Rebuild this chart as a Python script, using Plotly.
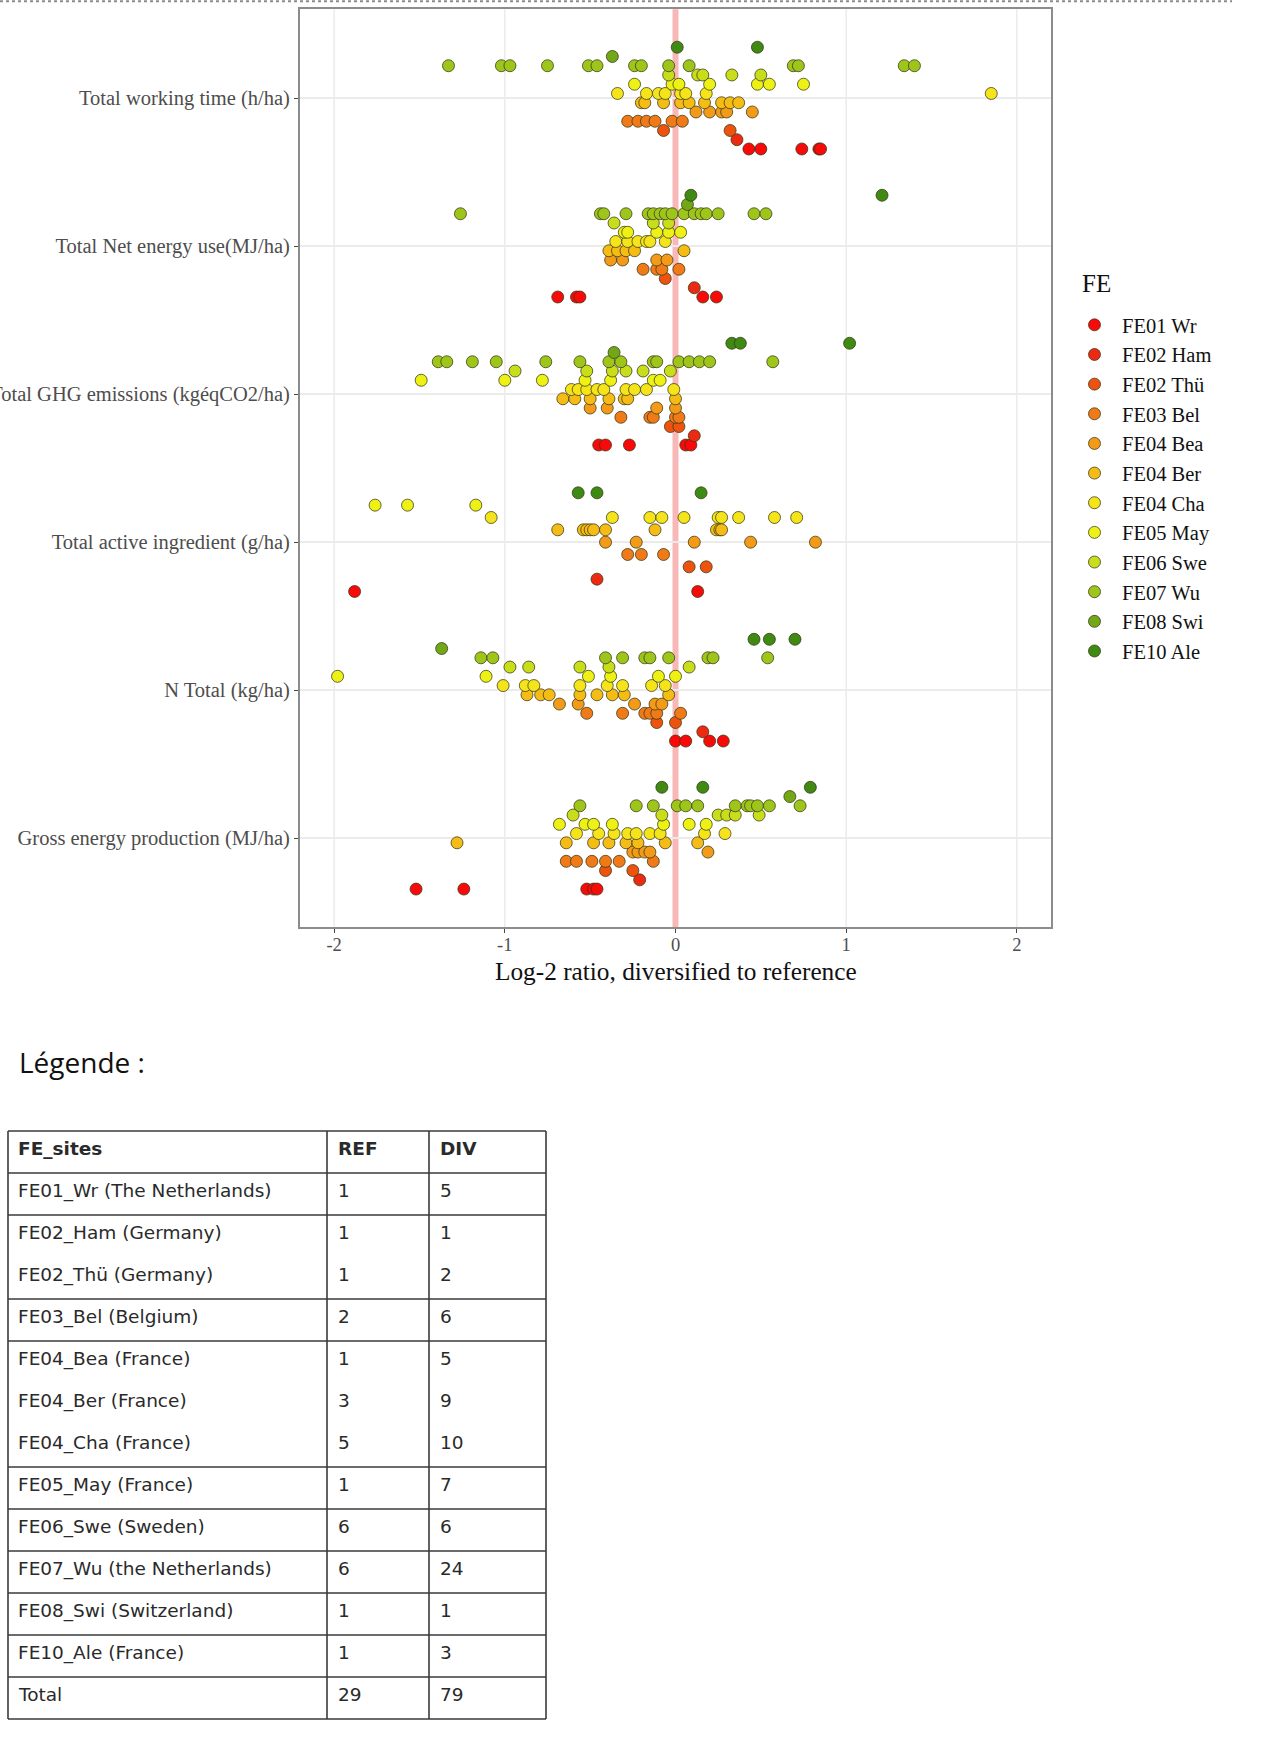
import plotly.graph_objects as go

# ---------------- data ----------------
fe_names = ["FE01 Wr", "FE02 Ham", "FE02 Thü", "FE03 Bel", "FE04 Bea", "FE04 Ber",
            "FE04 Cha", "FE05 May", "FE06 Swe", "FE07 Wu", "FE08 Swi", "FE10 Ale"]
fe_colors = ["#F80A0A", "#EC2A14", "#EE520F", "#F07A18", "#F39A18", "#F5BC15",
             "#F5E41A", "#EDF214", "#C9DE1A", "#9EC61A", "#72A818", "#3E8A12"]

indicators = ["Total working time (h/ha)", "Total Net energy use(MJ/ha)",
              "Total GHG emissions (kgéqCO2/ha)", "Total active ingredient (g/ha)",
              "N Total (kg/ha)", "Gross energy production (MJ/ha)"]

# log-2 ratios per FE (order of fe_names) for each indicator
working_time = [
    [0.43, 0.50, 0.74, 0.84, 0.85],
    [0.36],
    [-0.07, 0.32],
    [-0.28, -0.22, -0.17, -0.12, -0.02, 0.04],
    [0.12, 0.20, 0.27, 0.30, 0.45],
    [-0.20, -0.18, -0.07, 0.03, 0.08, 0.17, 0.27, 0.32, 0.37],
    [-0.34, -0.17, -0.10, -0.06, 0.03, 0.06, 0.18, 1.85],
    [-0.24, -0.02, 0.02, 0.20, 0.48, 0.55, 0.75],
    [-0.04, 0.13, 0.16, 0.33, 0.50],
    [-1.33, -1.02, -0.97, -0.75, -0.51, -0.46, -0.24, -0.20, -0.04, 0.08, 0.69, 0.72, 1.34, 1.40],
    [-0.37],
    [0.01, 0.48],
]
net_energy = [
    [-0.69, -0.58, -0.56, 0.16, 0.24],
    [0.11],
    [-0.06],
    [-0.19, -0.11, -0.08, 0.02],
    [-0.38, -0.31, -0.11, -0.05],
    [-0.39, -0.34, -0.29, -0.24, 0.05],
    [-0.35, -0.28, -0.22, -0.17, -0.15, -0.06],
    [-0.30, -0.28, -0.11, -0.04, 0.03],
    [-0.36, -0.13, -0.04],
    [-1.26, -0.44, -0.42, -0.29, -0.16, -0.13, -0.09, -0.06, -0.02, 0.05, 0.11, 0.15, 0.18, 0.25, 0.46, 0.53],
    [0.07],
    [0.09, 1.21],
]
ghg_emissions = [
    [-0.45, -0.41, -0.27, 0.06, 0.09],
    [0.11],
    [-0.03, 0.02],
    [-0.32, -0.15, -0.13, 0.00, 0.02],
    [-0.50, -0.40, -0.11, 0.00],
    [-0.66, -0.59, -0.50, -0.39, -0.30, -0.28, 0.00],
    [-0.61, -0.57, -0.52, -0.46, -0.42, -0.29, -0.24, -0.17, -0.01],
    [-1.49, -1.00, -0.78, -0.53, -0.38, -0.13, -0.09],
    [-0.94, -0.52, -0.37, -0.29, -0.19, -0.03],
    [-1.39, -1.34, -1.19, -1.05, -0.76, -0.56, -0.39, -0.32, -0.13, -0.11, 0.02, 0.08, 0.14, 0.20, 0.57],
    [-0.36],
    [0.33, 0.38, 1.02],
]
active_ingredient = [
    [-1.88, 0.13],
    [-0.46],
    [0.08, 0.18],
    [-0.28, -0.20, -0.07],
    [-0.41, -0.23, 0.11, 0.44, 0.82],
    [-0.69, -0.54, -0.52, -0.50, -0.48, -0.41, -0.12, 0.24, 0.26, 0.27],
    [-1.08, -0.37, -0.15, -0.08, 0.05, 0.25, 0.27, 0.37, 0.58, 0.71],
    [-1.76, -1.57, -1.17],
    [],
    [],
    [],
    [-0.57, -0.46, 0.15],
]
n_total = [
    [0.00, 0.06, 0.20, 0.28],
    [0.16],
    [-0.11, 0.00],
    [-0.52, -0.31, -0.18, -0.15, -0.11, 0.03],
    [-0.68, -0.57, -0.24, -0.12, -0.08],
    [-0.87, -0.79, -0.74, -0.56, -0.46, -0.37, -0.30, -0.04],
    [-1.01, -0.88, -0.83, -0.56, -0.40, -0.31, -0.14, -0.06],
    [-1.98, -1.11, -0.51, -0.38, -0.10, 0.00],
    [-0.97, -0.86, -0.56, -0.39, 0.08],
    [-1.14, -1.07, -0.41, -0.31, -0.18, -0.15, -0.04, 0.19, 0.22, 0.54],
    [-1.37],
    [0.46, 0.55, 0.70],
]
gross_energy = [
    [-1.52, -1.24, -0.52, -0.48, -0.46],
    [-0.21],
    [-0.41, -0.25],
    [-0.64, -0.58, -0.49, -0.41, -0.33, -0.13],
    [-0.25, -0.22, -0.18, -0.15, 0.19],
    [-1.28, -0.64, -0.48, -0.39, -0.29, -0.22, -0.06, 0.13],
    [-0.58, -0.45, -0.36, -0.28, -0.23, -0.15, -0.09, 0.17, 0.29],
    [-0.68, -0.53, -0.48, -0.37, -0.07, 0.08, 0.18],
    [-0.60, -0.08, 0.25, 0.30, 0.35, 0.49],
    [-0.56, -0.23, -0.13, 0.01, 0.06, 0.13, 0.35, 0.42, 0.44, 0.48, 0.55, 0.73],
    [0.67],
    [-0.08, 0.16, 0.79],
]
indicator_values = [working_time, net_energy, ghg_emissions,
                    active_ingredient, n_total, gross_energy]

x_ticks = [-2, -1, 0, 1, 2]
x_title = "Log-2 ratio, diversified to reference"
legend_title = "FE"

# legend table
table_header = ["FE_sites", "REF", "DIV"]
table_sites = ["FE01_Wr (The Netherlands)", "FE02_Ham (Germany)", "FE02_Thü (Germany)",
               "FE03_Bel (Belgium)", "FE04_Bea (France)", "FE04_Ber (France)",
               "FE04_Cha (France)", "FE05_May (France)", "FE06_Swe (Sweden)",
               "FE07_Wu (the Netherlands)", "FE08_Swi (Switzerland)", "FE10_Ale (France)",
               "Total"]
table_ref = [1, 1, 1, 2, 1, 3, 5, 1, 6, 6, 1, 1, 29]
table_div = [5, 1, 2, 6, 5, 9, 10, 7, 6, 24, 1, 3, 79]

# ---------------- figure ----------------
W, H = 1280, 1740
SERIF = "Liberation Serif"
GRID = "#EBEBEB"


def px(xp):
    return xp / W


def py(yp):
    return 1 - yp / H


DODGE = 0.75
n_ind = len(indicators)
xs = [[] for _ in fe_names]
ys = [[] for _ in fe_names]
for i, vals in enumerate(indicator_values):
    center = n_ind - i
    present = [k for k, v in enumerate(vals) if len(v) > 0]
    n = len(present)
    for j, k in enumerate(present):
        off = (j - (n - 1) / 2) * DODGE / n
        xs[k].extend(vals[k])
        ys[k].extend([center + off] * len(vals[k]))

fig = go.Figure()
for k, name in enumerate(fe_names):
    fig.add_trace(go.Scatter(
        x=xs[k], y=ys[k], mode="markers", name=name,
        marker=dict(size=12, color=fe_colors[k],
                    line=dict(color="rgba(55,55,20,0.75)", width=1)),
    ))

shapes = []
# vertical grid lines (drawn as shapes so the reference line sits above them)
for t in x_ticks:
    shapes.append(dict(type="line", xref="x", yref="y domain", x0=t, x1=t, y0=0, y1=1,
                       line=dict(color=GRID, width=1.5), layer="below"))
# reference line at 0
shapes.append(dict(type="line", xref="x", yref="y domain", x0=0, x1=0, y0=0, y1=1,
                   line=dict(color="#F9B8B8", width=6), layer="below"))
# dotted line at top of page
shapes.append(dict(type="line", xref="paper", yref="paper", x0=0, x1=px(1232),
                   y0=py(1.2), y1=py(1.2),
                   line=dict(color="#8C8C8C", width=2, dash="dot")))

annotations = []
annotations.append(dict(text=x_title, xref="paper", yref="paper",
                        x=px(675.5), y=py(971), xanchor="center", yanchor="middle",
                        showarrow=False,
                        font=dict(family=SERIF, size=25.3, color="#111111")))
annotations.append(dict(text=legend_title, xref="paper", yref="paper",
                        x=px(1080), y=py(284), xanchor="left", yanchor="middle",
                        showarrow=False,
                        font=dict(family=SERIF, size=25, color="#111111")))
annotations.append(dict(text="Légende :", xref="paper", yref="paper",
                        x=px(17), y=py(1062), xanchor="left", yanchor="middle",
                        showarrow=False,
                        font=dict(family="Open Sans", size=28, color="#111111")))

# table geometry
COL_X = [8, 327, 429, 546]
TEXT_X = [16, 336, 438]
T_TOP = 1131
ROW_H = 42
TEXT_SHIFT = -3.5
n_rows = len(table_sites) + 1
T_BOTTOM = T_TOP + n_rows * ROW_H
LINE = dict(color="#3A3A3A", width=1.6)

for cx in COL_X:
    shapes.append(dict(type="line", xref="paper", yref="paper", x0=px(cx), x1=px(cx),
                       y0=py(T_TOP), y1=py(T_BOTTOM), line=LINE))
groups = [s.split("_")[0] for s in table_sites]
hlines = [0, 1]
for r in range(1, len(table_sites)):
    if groups[r] != groups[r - 1]:
        hlines.append(r + 1)
hlines.append(n_rows)
for r in hlines:
    yy = T_TOP + r * ROW_H
    shapes.append(dict(type="line", xref="paper", yref="paper", x0=px(COL_X[0]), x1=px(COL_X[-1]),
                       y0=py(yy), y1=py(yy), line=LINE))

TFONT = dict(family="DejaVu Sans", size=18.5, color="#2A2A2A")
for c, htxt in enumerate(table_header):
    annotations.append(dict(text="<b>" + htxt + "</b>", xref="paper", yref="paper",
                            x=px(TEXT_X[c]), y=py(T_TOP + ROW_H / 2 + TEXT_SHIFT),
                            xanchor="left", yanchor="middle", showarrow=False, font=TFONT))
for r, (s, a, b) in enumerate(zip(table_sites, table_ref, table_div)):
    yc = T_TOP + (r + 1.5) * ROW_H + TEXT_SHIFT
    for c, val in enumerate([s, str(a), str(b)]):
        annotations.append(dict(text=val, xref="paper", yref="paper",
                                x=px(TEXT_X[c]), y=py(yc),
                                xanchor="left", yanchor="middle", showarrow=False, font=TFONT))

fig.update_layout(
    width=W, height=H,
    margin=dict(l=0, r=0, t=0, b=0, autoexpand=False),
    paper_bgcolor="white", plot_bgcolor="white",
    showlegend=True,
    legend=dict(
        font=dict(family=SERIF, size=20.5, color="#111111"),
        x=px(1067), y=py(305), xanchor="left", yanchor="top",
        itemwidth=45,
        bgcolor="rgba(0,0,0,0)", tracegroupgap=0,
    ),
    xaxis=dict(
        domain=[px(300), px(1051)], range=[-2.2, 2.2],
        tickvals=x_ticks, ticktext=[str(t) for t in x_ticks],
        showgrid=False, zeroline=False, automargin=False,
        showline=True, mirror=True, linecolor="#8C8C8C", linewidth=2,
        ticks="outside", ticklen=4, tickcolor="#444444", tickwidth=1,
        ticklabelstandoff=-4,
        tickfont=dict(family=SERIF, size=18.5, color="#4D4D4D"),
        anchor="y",
    ),
    yaxis=dict(
        domain=[py(927), py(9.3)], range=[0.4, 6.6],
        tickvals=[n_ind - i for i in range(n_ind)], ticktext=indicators,
        showgrid=True, gridcolor=GRID, gridwidth=1.5, zeroline=False, automargin=False,
        showline=True, mirror=True, linecolor="#8C8C8C", linewidth=2,
        ticks="outside", ticklen=4, tickcolor="#444444", tickwidth=1,
        tickfont=dict(family=SERIF, size=20.5, color="#4D4D4D"),
        anchor="x",
    ),
    shapes=shapes,
    annotations=annotations,
)

fig.write_html("out.html", config={"displayModeBar": False},
               post_script="document.body.style.margin='0px';")
